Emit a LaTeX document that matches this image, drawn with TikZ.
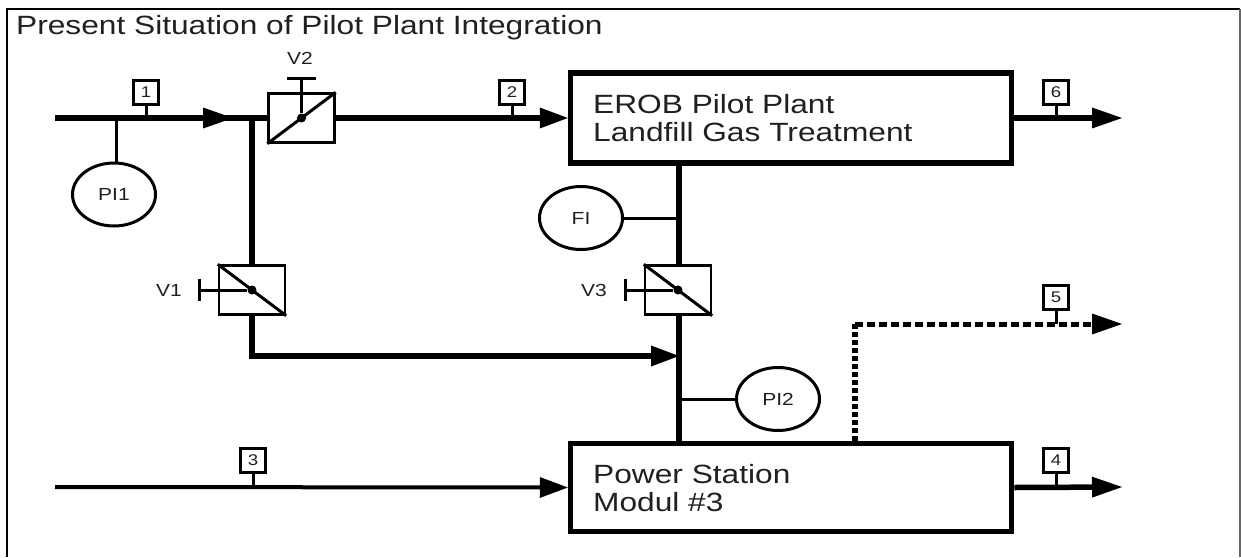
\documentclass[tikz,border=0pt]{standalone}
\usepackage{fontspec}
\setmainfont{Liberation Sans}
\newfontfamily\widefont[FakeStretch=1.2]{Liberation Sans}
\usetikzlibrary{arrows.meta,shapes.geometric}
\definecolor{ink}{HTML}{202020}
\tikzset{
  x=1pt,y=-1pt,
  pipe/.style={line width=5.5pt,draw=black},
  thinpipe/.style={line width=4pt,draw=black},
  flow/.style={-{Triangle[length=30pt,width=21pt,line width=0pt]}},
  inflow/.style={-{Triangle[length=28pt,width=21pt,line width=0pt]}},
  stem/.style={line width=3pt,draw=black},
  plant/.style={draw=black,line width=5.5pt,fill=white,minimum width=441pt,anchor=center,inner sep=0pt},
  tagbox/.style={draw=black,line width=2.4pt,fill=white,minimum width=25pt,minimum height=24pt,inner sep=0pt,font=\widefont\fontsize{15.5}{15.5}\selectfont,text=ink},
  valvebox/.style={draw=black,line width=2.4pt,fill=white,minimum width=66pt,minimum height=49pt,inner sep=0pt},
  gauge/.style={draw=black,line width=3pt,fill=white,ellipse,minimum width=83pt,minimum height=63pt,inner sep=0pt,font=\widefont\fontsize{17.5}{17.5}\selectfont,text=ink},
  vlabel/.style={font=\widefont\fontsize{17.5}{17.5}\selectfont,text=ink,inner sep=0pt},
  blocktext/.style={font=\widefont\fontsize{26.4}{28}\selectfont,text=ink,inner sep=0pt,align=left,anchor=west},
  spindle/.style={line width=3pt,draw=black},
  hub/.style={circle,fill=black,inner sep=0pt,minimum size=9pt},
}
\begin{document}
\begin{tikzpicture}
\useasboundingbox (0,0) rectangle (1241,557);
% frame
\draw[line width=2pt,black] (6.5,557) -- (6.5,9) -- (1240,9);
\draw[line width=1.5pt,black!60] (1240,9) -- (1240,557);
\node[font=\widefont\fontsize{26.4}{28}\selectfont,text=ink,inner sep=0pt,anchor=west] (title) at (16,28) {Present Situation of Pilot Plant Integration};

% blocks
\node[plant,minimum height=90pt] (erob) at (791,118) {};
\node[plant,minimum height=88pt] (power) at (791,487.5) {};
\node[blocktext] (eroblabel) at (593,118) {EROB Pilot Plant\\Landfill Gas Treatment};
\node[blocktext] (powerlabel) at (593,488) {Power Station\\Modul \#3};

% valves
\node[valvebox] (v2) at (301.5,118) {};
\node[valvebox] (v1) at (252,290) {};
\node[valvebox] (v3) at (678,290) {};

% coordinates
\coordinate (in1) at (55,118);
\coordinate (in3) at (55,487);
\coordinate (tee) at (252,118);
\coordinate (merge) at (679,356);
\coordinate (out6) at (1122,118);
\coordinate (out5) at (1122,324);
\coordinate (head5) at (1092,324);
\coordinate (out4) at (1122,487);
\coordinate (bend5) at (855,324);
\coordinate (foot5) at (855,441);
\coordinate (bendv1) at (252,356);

% main pipes
\draw[pipe] (in1) -- (v2.west);
\draw[pipe,flow,shorten >=19pt] (in1) -- (tee);
\draw[pipe,inflow] (v2.east) -- (erob.west);
\draw[line width=6pt] (tee) -- (v1.north);
\draw[pipe,inflow] (v1.south) -- (bendv1) -- (merge);
\draw[pipe] (erob.south) ++(-112,0) coordinate (c3top) -- (c3top |- v3.north);
\draw[pipe] (c3top |- v3.south) -- (c3top |- power.north) coordinate (c3bot);
\draw[thinpipe,inflow] (in3) -- (power.west);
\draw[pipe,flow] (erob.east) -- (out6);
\draw[pipe,flow] (power.east) -- (out4);
\draw[line width=6pt,dash pattern=on 5pt off 3pt] (foot5) -- (bend5);
\draw[line width=5pt,dash pattern=on 8pt off 4pt] (bend5) -- (head5);
\draw[pipe,flow] (head5) -- (out5);

% valve internals
\draw[spindle] (v2.south west) -- (v2.north east);
\draw[spindle] (v1.north west) -- (v1.south east);
\draw[spindle] (v3.north west) -- (v3.south east);
\node[hub] (hub2) at (v2.center) {};
\node[hub] (hub1) at (v1.center) {};
\node[hub] (hub3) at (v3.center) {};
\coordinate (top2) at (301.5,78);
\coordinate (left1) at (199,290);
\coordinate (left3) at (625,290);
\draw[spindle] (hub2) -- (top2);
\draw[spindle] (hub1) -- (left1);
\draw[spindle] (hub3) -- (left3);
\draw[spindle] (287,78) -- (316,78);
\draw[spindle] (199,279) -- (199,301);
\draw[spindle] (625,279) -- (625,301);
\node[vlabel] (lv2) at (300,58) {V2};
\node[vlabel] (lv1) at (169,290) {V1};
\node[vlabel] (lv3) at (594,290) {V3};

% gauges
\node[gauge] (pi1) at (114,194.5) {PI1};
\node[gauge] (fi) at (581,218) {FI};
\node[gauge] (pi2) at (778,399) {PI2};
\draw[stem] (116,163) -- (116,118);
\draw[stem] (fi.east) -- (fi.east -| c3top);
\draw[stem] (pi2.west) -- (pi2.west -| c3top);

% tags
\node[tagbox] (t1) at (146,92.5) {1};
\node[tagbox] (t2) at (512,92.5) {2};
\node[tagbox] (t3) at (253,460.5) {3};
\node[tagbox] (t4) at (1056,460.5) {4};
\node[tagbox] (t5) at (1056,297.5) {5};
\node[tagbox] (t6) at (1056,92.5) {6};
\draw[stem] (t1.south) -- (t1.south |- in1);
\draw[stem] (t2.south) -- (t2.south |- in1);
\draw[stem] (t3.south) -- (t3.south |- in3);
\draw[stem] (t4.south) -- (t4.south |- in3);
\draw[stem] (t5.south) -- (t5.south |- out5);
\draw[stem] (t6.south) -- (t6.south |- in1);
\end{tikzpicture}
\end{document}
